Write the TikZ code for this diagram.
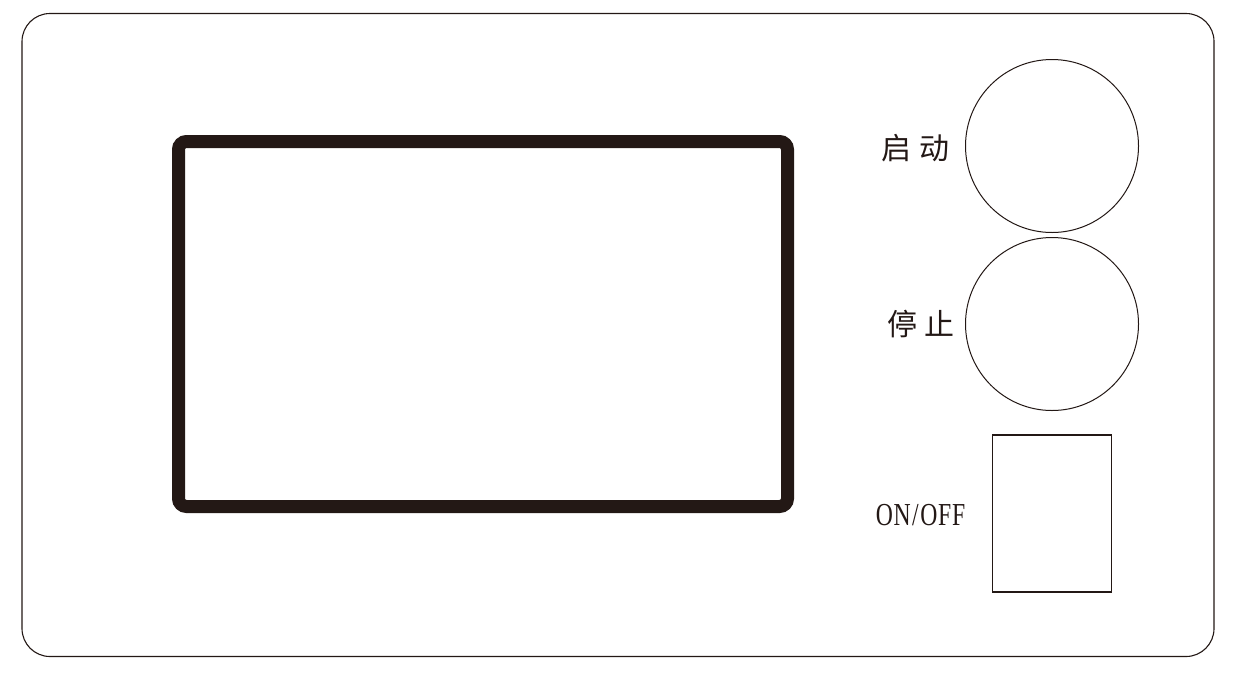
\documentclass[tikz,border=0pt]{standalone}
\usepackage{fontspec}
\setmainfont{Liberation Serif}
\newfontfamily\cjk{Noto Sans CJK SC}
\definecolor{ink}{HTML}{231815}
\begin{document}
\begin{tikzpicture}[x=1pt,y=-1pt,
  thin line/.style={draw=ink,line width=1.1pt},
  screenbox/.style={draw=ink,line width=13pt,rounded corners=8pt},
  btn/.style={circle,draw=ink,line width=1pt,minimum size=173pt,inner sep=0pt},
  cjklabel/.style={font=\cjk\fontsize{30}{30}\selectfont,text=ink,inner sep=0pt},
  swlabel/.style={font=\fontsize{32}{32}\selectfont,text=ink,inner sep=0pt,xscale=0.74}]
\useasboundingbox (0,0) rectangle (1236,678);
\fill[white] (0,0) rectangle (1236,678);
\draw[thin line,rounded corners=28pt] (22,13.5) rectangle (1214,656.5);
\draw[screenbox] (178.5,141.5) rectangle (787.5,506.5);
\node[btn] (start) at (1052,146) {};
\node[btn] (stop) at (1052,324) {};
\draw[thin line] (992.3,435) rectangle (1111.3,592);
\node[cjklabel] (startlbl) at (915.5,148) {启\hspace{8pt}动};
\node[cjklabel] (stoplbl) at (921,324) {停\hspace{8pt}止};
\node[swlabel] (swlbl) at (920.5,515) {O\kern1ptN\kern2pt/\kern2ptO\kern1ptF\kern1ptF};
\end{tikzpicture}
\end{document}
